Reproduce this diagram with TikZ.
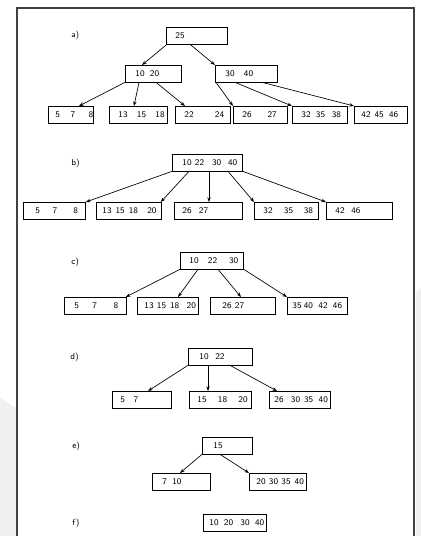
\documentclass[tikz,border=0pt]{standalone}
\usepackage{tikz}
\usetikzlibrary{arrows.meta,calc}

\tikzset{
  keybox/.style 2 args={draw, line width=0.6pt, anchor=north west, text width=#1,
    minimum height=12.4pt, inner xsep=0pt, inner ysep=0pt, align=left,
    font=\sffamily\fontsize{6.5}{8}\selectfont, execute at begin node={\hspace*{#2}}},
  link/.style={line width=0.5pt, -{Stealth[length=3.5pt,width=2.6pt]}},
  lbl/.style={anchor=west, inner sep=0pt, font=\sffamily\fontsize{6.5}{8}\selectfont}
}

\begin{document}
\begin{tikzpicture}[x=0.75pt,y=-0.75pt]
  \useasboundingbox (0,0) rectangle (421,536);
  \fill[white] (0,0) rectangle (421,536);
  % faint page shadows outside the frame
  \fill[black!6] (416,292) -- (421,288) -- (421,536) -- (416,536) -- cycle;
  \fill[black!6] (0,398) -- (16,408) -- (16,536) -- (0,536) -- cycle;
  \draw[line width=1.1pt, black!75] (17,536) -- (17,8) -- (414,8) -- (414,536);

  % a)
  \node[lbl] (la) at (71,35) {a)};
  \node[keybox={45.75pt}{6.75pt}] (a0) at (166,27) {25};
  \node[keybox={42pt}{7.5pt}] (a1) at (125,65) {10\hspace{4pt}20};
  \node[keybox={46.5pt}{7.5pt}] (a2) at (215,65) {30\hspace{7pt}40};
  \node[keybox={33.75pt}{5.25pt}] (a11) at (48,106) {5\hspace{8pt}7\hspace{10pt}8};
  \node[keybox={43.5pt}{6.75pt}] (a12) at (109,106) {13\hspace{7pt}15\hspace{7pt}18};
  \node[keybox={41.25pt}{6.75pt}] (a13) at (175,106) {22\hspace{16pt}24};
  \node[keybox={40.5pt}{6.75pt}] (a21) at (233,106) {26\hspace{12pt}27};
  \node[keybox={41.25pt}{6.75pt}] (a22) at (292,106) {32\hspace{4pt}35\hspace{5pt}38};
  \node[keybox={39.75pt}{5.25pt}] (a23) at (354,106) {42\hspace{3pt}45\hspace{4pt}46};
  \draw[link] ($(a0.south west)+(1,0)$) -- ($(a1.north west)+(17,0)$);
  \draw[link] ($(a0.south west)+(24,0)$) -- (a2.north west);
  \draw[link] (a1.south west) -- ($(a11.north west)+(31,0)$);
  \draw[link] ($(a1.south west)+(14,0)$) -- ($(a12.north west)+(25,0)$);
  \draw[link] ($(a1.south west)+(31,0)$) -- ($(a13.north west)+(10,0)$);
  \draw[link] ($(a2.south west)+(1,0)$) -- (a21.north west);
  \draw[link] ($(a2.south west)+(20,0)$) -- (a22.north west);
  \draw[link] ($(a2.south west)+(47,0)$) -- (a23.north west);

  % b)
  \node[lbl] (lb) at (71,163) {b)};
  \node[keybox={52.5pt}{7.5pt}] (b0) at (172,154) {10\hspace{2.5pt}22\hspace{6pt}30\hspace{5pt}40};
  \node[keybox={46.5pt}{9pt}] (b1) at (23,202) {5\hspace{9.5pt}7\hspace{12pt}8};
  \node[keybox={48.75pt}{4.5pt}] (b2) at (96,202) {13\hspace{3pt}15\hspace{3pt}18\hspace{7pt}20};
  \node[keybox={51pt}{6pt}] (b3) at (174,202) {26\hspace{5.5pt}27};
  \node[keybox={48pt}{6.75pt}] (b4) at (254,202) {32\hspace{8.5pt}35\hspace{8pt}38};
  \node[keybox={49.5pt}{6.75pt}] (b5) at (326,202) {42\hspace{5pt}46};
  \draw[link] (b0.south west) -- (b1.north east);
  \draw[link] ($(b0.south west)+(17,0)$) -- ($(b2.north east)+(-1,0)$);
  \draw[link] ($(b0.south west)+(37,0)$) -- ($(b3.north west)+(35,0)$);
  \draw[link] ($(b0.south west)+(56,0)$) -- (b4.north west);
  \draw[link] (b0.south east) -- (b5.north west);

  % c)
  \node[lbl] (lc) at (71,262) {c)};
  \node[keybox={47.25pt}{6.75pt}] (c0) at (180,252) {10\hspace{7pt}22\hspace{9pt}30};
  \node[keybox={46.5pt}{7.5pt}] (c1) at (64,297) {5\hspace{10pt}7\hspace{12.5pt}8};
  \node[keybox={45.75pt}{5.25pt}] (c2) at (137,297) {13\hspace{2.5pt}15\hspace{3pt}18\hspace{5.5pt}20};
  \node[keybox={48.75pt}{9pt}] (c3) at (210,297) {26\hspace{2.5pt}27};
  \node[keybox={45pt}{3.75pt}] (c4) at (287,297) {35\hspace{1.7pt}40\hspace{4pt}42\hspace{4pt}46};
  \draw[link] (c0.south west) -- ($(c1.north east)+(-1,0)$);
  \draw[link] ($(c0.south west)+(18,0)$) -- ($(c2.north west)+(41,0)$);
  \draw[link] ($(c0.south west)+(38,0)$) -- ($(c3.north west)+(31,0)$);
  \draw[link] (c0.south east) -- (c4.north west);

  % d)
  \node[lbl] (ld) at (70,357) {d)};
  \node[keybox={48pt}{8.25pt}] (d0) at (188,348) {10\hspace{5pt}22};
  \node[keybox={44.25pt}{6pt}] (d1) at (112,391) {5\hspace{6.5pt}7};
  \node[keybox={46.5pt}{6pt}] (d2) at (189,391) {15\hspace{8.5pt}18\hspace{8.5pt}20};
  \node[keybox={45.75pt}{3.75pt}] (d3) at (269,391) {26\hspace{5.5pt}30\hspace{3pt}35\hspace{4pt}40};
  \draw[link] (d0.south west) -- ($(d1.north west)+(36,0)$);
  \draw[link] ($(d0.south west)+(20,0)$) -- ($(d2.north west)+(19,0)$);
  \draw[link] ($(d0.south west)+(42,0)$) -- ($(d3.north west)+(8,0)$);

  % e)
  \node[lbl] (le) at (72,446) {e)};
  \node[keybox={37.5pt}{8.25pt}] (e0) at (202,437) {15};
  \node[keybox={43.5pt}{7.5pt}] (e1) at (152,473) {7\hspace{4pt}10};
  \node[keybox={42.75pt}{5.25pt}] (e2) at (249,473) {20\hspace{2.5pt}30\hspace{2.5pt}35\hspace{3pt}40};
  \draw[link] (e0.south west) -- ($(e1.north west)+(28,0)$);
  \draw[link] ($(e0.south west)+(18,0)$) -- (e2.north west);

  % f)
  \node[lbl] (lf) at (72,523) {f)};
  \node[keybox={47.25pt}{4.5pt}] (f0) at (203,514) {10\hspace{4pt}20\hspace{5.5pt}30\hspace{4pt}40};
\end{tikzpicture}
\end{document}
